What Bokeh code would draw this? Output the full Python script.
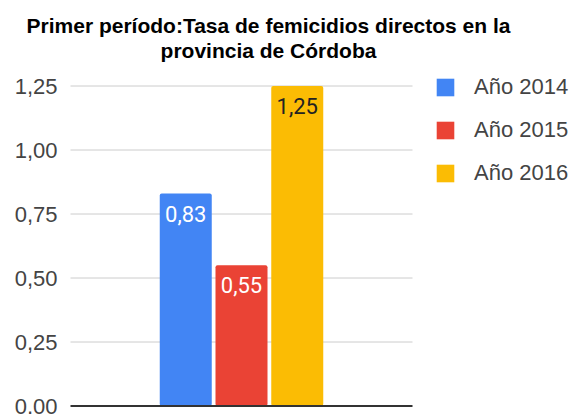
from bokeh.plotting import figure
from bokeh.models import ColumnDataSource, Range1d, Label, Legend, LegendItem
from bokeh.embed import file_html
from bokeh.resources import INLINE

# ---- data ----
years = ["Año 2014", "Año 2015", "Año 2016"]
rates = [0.83, 0.55, 1.25]
rate_labels = ["0,83", "0,55", "1,25"]
colors = ["#4285F4", "#EA4335", "#FBBC04"]
label_colors = ["#ffffff", "#ffffff", "#222222"]
ticks = [0.0, 0.25, 0.5, 0.75, 1.0, 1.25]
tick_labels = ["0,00", "0,25", "0,50", "0,75", "1,00", "1,25"]
title_lines = ["Primer período:Tasa de femicidios directos en la",
               "provincia de Córdoba"]

# ---- layout (pixels) ----
W, H = 574, 414
zero_px = 405.5          # y pixel of value 0
px_per_unit = 256.0      # pixels per 1.0
mid_px = 241.0           # x pixel of the middle bar centre
step_px = 55.75          # pixels between bar centres
bar_px = 52.0
plot_left_px, plot_right_px = 70.0, 412.0

positions = list(range(1, len(years) + 1))
mid = (positions[0] + positions[-1]) / 2
x_range = Range1d(mid - mid_px / step_px, mid + (W - mid_px) / step_px)
y_range = Range1d(-(H - zero_px) / px_per_unit, zero_px / px_per_unit)
gx0 = mid + (plot_left_px - mid_px) / step_px
gx1 = mid + (plot_right_px - mid_px) / step_px

p = figure(width=W, height=H, output_backend="svg", toolbar_location=None,
           x_range=x_range, y_range=y_range,
           x_axis_location=None, y_axis_location=None,
           min_border=0)
p.outline_line_color = None
p.background_fill_color = "white"
p.border_fill_color = "white"
p.grid.visible = False

# gridlines
grid_src = ColumnDataSource(dict(y=ticks[1:], x0=[gx0] * (len(ticks) - 1),
                                 x1=[gx1] * (len(ticks) - 1)))
p.segment(x0="x0", y0="y", x1="x1", y1="y", source=grid_src,
          line_color="#cccccc", line_width=1)

# tick labels
tick_src = ColumnDataSource(dict(y=ticks, t=tick_labels, x=[gx0] * len(ticks)))
p.text(x="x", y="y", text="t", source=tick_src, x_offset=-13,
       text_align="right", text_baseline="middle",
       text_font={"value": "Liberation Sans"}, text_font_size="22px",
       text_color="#444444")

# bars
src = ColumnDataSource(dict(x=positions, top=rates, lab=rate_labels,
                            color=colors, lcolor=label_colors, name=years))
r = p.vbar(x="x", top="top", bottom=0, width=bar_px / step_px, source=src,
           fill_color="color", line_color=None, border_radius=2)
p.text(x="x", y="top", text="lab", source=src, text_color="lcolor",
       text_align="center", text_baseline="middle", y_offset=20,
       text_font_size="22px", text_font={"value": "Roboto"})

# baseline
p.segment(x0=[gx0], y0=[0], x1=[gx1], y1=[0], line_color="#333333", line_width=2)

# title
for i, line in enumerate(title_lines):
    p.add_layout(Label(x=268, y=H - 25 - 24.5 * i, x_units="screen", y_units="screen",
                       text=line, text_align="center", text_baseline="middle",
                       text_font="Liberation Sans", text_font_style="bold",
                       text_font_size="21px", text_color="#000000"))

# legend
items = [LegendItem(label=years[i], renderers=[r], index=i) for i in range(len(years))]
legend = Legend(items=items, location=(434, 228), orientation="vertical",
                glyph_width=22, glyph_height=22, label_height=22,
                label_standoff=18, spacing=17, padding=0, margin=0,
                border_line_color=None, background_fill_alpha=0,
                label_text_font="Liberation Sans", label_text_font_size="22px",
                label_text_color="#444444")
p.add_layout(legend)

open("out.html", "w").write(file_html(p, INLINE))
